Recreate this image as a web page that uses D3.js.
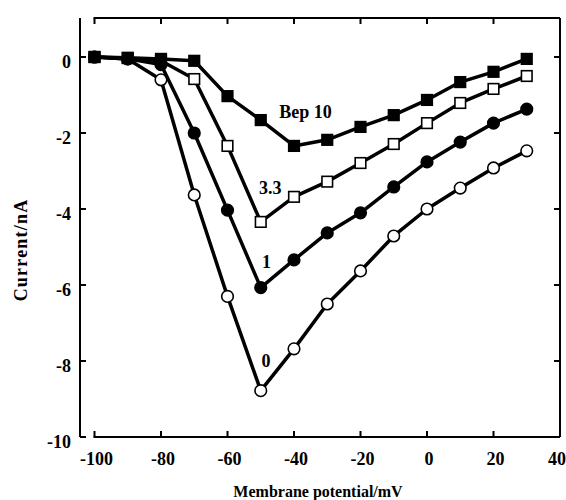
<!DOCTYPE html>
<html>
<head>
<meta charset="utf-8">
<script src="https://cdnjs.cloudflare.com/ajax/libs/d3/7.8.5/d3.min.js"></script>
<style>
	body { margin: 0; background: #fff; }
	text { font-family: "Liberation Serif", "Times New Roman", serif; font-weight: bold; fill: #000; }
</style>
</head>
<body>
<svg></svg>
<script>
// Membrane potential (mV) for every point
var potentials = [-100, -90, -80, -70, -60, -50, -40, -30, -20, -10, 0, 10, 20, 30];

// Current (nA) for each Bep concentration
var bep0  = [0, -0.05, -0.6, -3.63, -6.3, -8.78, -7.68, -6.5, -5.63, -4.71, -4.0, -3.45, -2.92, -2.47];
var bep1  = [0, -0.05, -0.2, -2.0, -4.03, -6.07, -5.34, -4.63, -4.1, -3.42, -2.76, -2.24, -1.74, -1.37];
var bep33 = [0, -0.03, -0.1, -0.58, -2.34, -4.34, -3.68, -3.28, -2.79, -2.29, -1.74, -1.21, -0.84, -0.5];
var bep10 = [0, -0.02, -0.05, -0.1, -1.03, -1.66, -2.34, -2.18, -1.84, -1.53, -1.13, -0.66, -0.39, -0.05];

var xTicks = [-100, -80, -60, -40, -20, 0, 20, 40],
	yTicks = [0, -2, -4, -6, -8, -10];

var WIDTH = 566,
	HEIGHT = 500,
	LEFT_LINE = 80, // y axis line sits a little left of the x range
	RIGHT = 560,
	TOP = 18,
	BOTTOM = 437,
	TICK = 6,
	LINE_W = 3.5;

var svg = d3.select("svg")
	.attr("width", WIDTH)
	.attr("height", HEIGHT);

var x = d3.scaleLinear().domain([-100, 40]).range([94.5, RIGHT]);
var y = d3.scaleLinear().domain([-10, 0]).range([BOTTOM, 57]);


//////////// Frame and ticks

var frame = svg.append("g")
	.attr("stroke", "#000")
	.attr("stroke-width", 2)
	.attr("fill", "none");

frame.append("line").attr("x1", LEFT_LINE).attr("x2", LEFT_LINE).attr("y1", TOP).attr("y2", BOTTOM);
frame.append("line").attr("x1", RIGHT).attr("x2", RIGHT).attr("y1", TOP).attr("y2", BOTTOM);
frame.append("line").attr("x1", x(-100) - 1).attr("x2", RIGHT).attr("y1", TOP).attr("y2", TOP);
frame.append("line").attr("x1", x(-100) - 1).attr("x2", RIGHT).attr("y1", BOTTOM).attr("y2", BOTTOM);

// x ticks, pointing inwards from top and bottom
xTicks.forEach(function(d) {
	frame.append("line").attr("x1", x(d)).attr("x2", x(d)).attr("y1", BOTTOM).attr("y2", BOTTOM - TICK);
	frame.append("line").attr("x1", x(d)).attr("x2", x(d)).attr("y1", TOP).attr("y2", TOP + TICK);
});

// y ticks, pointing inwards from left and right
yTicks.forEach(function(d) {
	frame.append("line").attr("x1", LEFT_LINE).attr("x2", LEFT_LINE + TICK).attr("y1", y(d)).attr("y2", y(d));
	frame.append("line").attr("x1", RIGHT).attr("x2", RIGHT - TICK).attr("y1", y(d)).attr("y2", y(d));
});

// Last label is clipped by the page edge in the original, keep it inside
svg.selectAll("dummy")
	.data(xTicks)
  .enter().append("text")
	.text(function(d) {return d;})
	.attr("text-anchor", function(d) {return d == 40 ? "end" : "middle";})
	.attr("x", function(d) {return d == 40 ? 566 : x(d) + 2;})
	.attr("y", 465)
	.style("font-size", "18px");

svg.selectAll("dummy")
	.data(yTicks)
  .enter().append("text")
	.text(function(d) {return d;})
	.attr("text-anchor", "end")
	.attr("x", 71)
	.attr("y", function(d) {return y(d) + 11;})
	.style("font-size", "18px");

// Axis titles
svg.append("text")
	.text("Membrane potential/mV")
	.attr("text-anchor", "middle")
	.attr("x", 318)
	.attr("y", 497)
	.style("font-size", "16px");

svg.append("text")
	.text("Current/nA")
	.attr("text-anchor", "middle")
	.attr("transform", "translate(27,250) rotate(-90)")
	.style("font-size", "18px")
	.style("letter-spacing", "1.2px");


//////////// Series

var series = [
	{values: bep0, shape: "circle", filled: false},
	{values: bep33, shape: "square", filled: false},
	{values: bep10, shape: "square", filled: true},
	{values: bep1, shape: "circle", filled: true}
];

var line = d3.line()
	.x(function(d) {return x(d[0]);})
	.y(function(d) {return y(d[1]);});

series.forEach(function(s) {
	var pts = d3.zip(potentials, s.values);

	svg.append("path")
		.datum(pts)
		.attr("d", line)
		.attr("fill", "none")
		.attr("stroke", "#000")
		.attr("stroke-width", LINE_W)
		.attr("stroke-linejoin", "round");

	var marks = svg.selectAll("dummy")
		.data(pts)
	  .enter().append(s.shape == "circle" ? "circle" : "rect")
		.attr("fill", s.filled ? "#000" : "#fff")
		.attr("stroke", "#000")
		.attr("stroke-width", 1.6);

	if (s.shape == "circle") {
		marks.attr("cx", function(d) {return x(d[0]);})
			.attr("cy", function(d) {return y(d[1]);})
			.attr("r", 5.8);
	} else {
		marks.attr("x", function(d) {return x(d[0]) - 5.3;})
			.attr("y", function(d) {return y(d[1]) - 5.3;})
			.attr("width", 10.6)
			.attr("height", 10.6);
	}
});


//////////// Curve labels

var labels = [
	{text: "Bep 10", v: -44.4, c: -1.6},
	{text: "3.3", v: -50.5, c: -3.6},
	{text: "1", v: -49.6, c: -5.55},
	{text: "0", v: -49.8, c: -8.15}
];

svg.selectAll("dummy")
	.data(labels)
  .enter().append("text")
	.text(function(d) {return d.text;})
	.attr("x", function(d) {return x(d.v);})
	.attr("y", function(d) {return y(d.c);})
	.style("font-size", "18px");
</script>
</body>
</html>
